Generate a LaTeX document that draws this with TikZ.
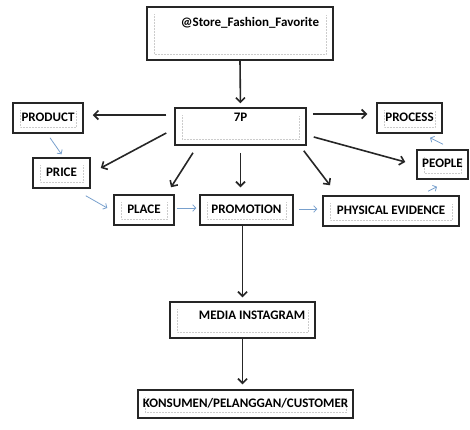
\documentclass[tikz,border=0pt]{standalone}
\usepackage{fontspec}
\setmainfont{Carlito}
\usetikzlibrary{arrows.meta,calc}
\definecolor{arrowblue}{RGB}{120,160,205}

\begin{document}
\begin{tikzpicture}[x=1pt, y=-1pt,
    box/.style={draw=black!85, line width=1.5pt, rectangle, inner sep=0pt, font=\fontsize{13}{15}\selectfont\bfseries,
      text height=9pt, text depth=3pt,
      path picture={\draw[gray!40, line width=0.5pt, densely dotted]
        ($(path picture bounding box.north west)+(7,7)$) -- ($(path picture bounding box.south west)+(7,-6)$)
        -- ($(path picture bounding box.south east)+(-7,-6)$) -- ($(path picture bounding box.north east)+(-7,7)$);}},
    blk/.style={-{Straight Barb[length=4.5pt,width=9pt]}, line width=1.6pt, black!85},
    blu/.style={-{Straight Barb[length=3pt,width=6.5pt]}, line width=0.8pt, arrowblue}]
    \useasboundingbox (0,0) rectangle (470,429);
    % Top: account and 7P
    \node[box, minimum width=186pt, minimum height=53pt, text depth=24pt] (store) at (240,33.5) {\hspace*{20pt}@Store\_Fashion\_Favorite};
    \node[box, minimum width=131pt, minimum height=37pt, text depth=20pt] (n7p) at (240.5,126.5) {7P};
    % The seven elements
    \node[box, minimum width=70pt, minimum height=30pt] (product) at (48,118) {PRODUCT};
    \node[box, minimum width=57pt, minimum height=30pt] (price) at (61.5,173) {PRICE};
    \node[box, minimum width=60pt, minimum height=30pt] (place) at (144,210) {PLACE};
    \node[box, minimum width=93pt, minimum height=30pt] (promo) at (246.5,210) {PROMOTION};
    \node[box, minimum width=136pt, minimum height=30pt] (phys) at (391,211) {PHYSICAL EVIDENCE};
    \node[box, minimum width=65pt, minimum height=30pt] (process) at (409.5,118) {PROCESS};
    \node[box, minimum width=51pt, minimum height=29pt] (people) at (442.5,164.5) {PEOPLE};
    % Bottom: media and customer
    \node[box, minimum width=145pt, minimum height=36pt, text depth=11pt] (media) at (242.5,320) {\hspace*{19pt}MEDIA INSTAGRAM};
    \node[box, minimum width=215pt, minimum height=28pt] (konsu) at (245.5,404) {KONSUMEN/PELANGGAN/CUSTOMER};
    % Black arrows
    \draw[blk, shorten >=4pt] (store.south) -- (n7p.north);
    \draw[blk] ($(n7p.west)+(-8,-11.5)$) -- ($(product.east)+(9,-3)$);
    \draw[blk] ($(n7p.west)+(-8,6.5)$) -- ($(price.east)+(10,-5)$);
    \draw[blk] ($(n7p.south)+(-47.5,7)$) -- ($(place.north)+(27,-7)$);
    \draw[blk, shorten <=7pt, shorten >=7pt] (n7p.south) -- (n7p.south |- promo.north);
    \draw[blk] ($(n7p.south east)+(-3,5)$) -- ($(phys.north)+(-61,-10)$);
    \draw[blk] ($(n7p.east)+(6,-12.5)$) -- ($(process.west)+(-9,-4)$);
    \draw[blk] ($(n7p.east)+(7,10.5)$) -- ($(people.west)+(-11,-2.5)$);
    \draw[blk, shorten >=4pt] (media.north |- promo.south) -- (media.north);
    \draw[blk, shorten >=5pt] (media.south) -- (media.south |- konsu.north);
    % Blue arrows
    \draw[blu] ($(product.south)+(2,4)$) -- ($(price.north)+(0,-3)$);
    \draw[blu] ($(price.south east)+(-5,7)$) -- ($(place.west)+(-6,-2)$);
    \draw[blu] ($(place.east)+(2,-2)$) -- ($(promo.west)+(-3,-2)$);
    \draw[blu] ($(promo.east)+(5,-1)$) -- ($(phys.west)+(-5,-2)$);
    \draw[blu] ($(phys.north)+(37,-4)$) -- ($(people.south)+(-5.5,7)$);
    \draw[blu] ($(people.north)+(0.5,-5)$) -- ($(process.south)+(20.5,4)$);
\end{tikzpicture}
\end{document}
